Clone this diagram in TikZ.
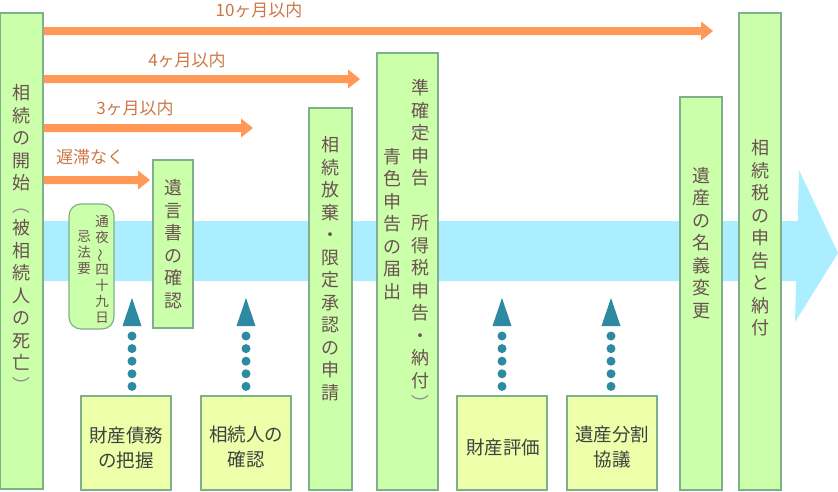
\documentclass[tikz,border=0pt]{standalone}
\usepackage{fontspec}
\usetikzlibrary{fit}
\newfontfamily\jp{Noto Sans CJK JP}
\definecolor{gfill}{HTML}{CCFFAA}
\definecolor{yfill}{HTML}{EEFFAA}
\definecolor{gline}{HTML}{7FB08C}
\definecolor{bluec}{HTML}{AAEEFF}
\definecolor{orangec}{HTML}{FF9955}
\definecolor{olabc}{HTML}{CC7744}
\definecolor{tealc}{HTML}{2E8AA0}
\definecolor{vtc}{HTML}{6B5252}
\definecolor{btc}{HTML}{404040}
\definecolor{parc}{HTML}{8C8C8C}
\newcommand\lp{\textcolor{parc}{\rotatebox[origin=c]{-90}{（}}}
\newcommand\rp{\textcolor{parc}{\rotatebox[origin=c]{-90}{）}}}
\begin{document}
\begin{tikzpicture}[x=1pt,y=-1pt,
  gbox/.style={draw=gline, fill=gfill, line width=1.2pt, inner sep=0pt},
  ybox/.style={draw=gline, fill=yfill, line width=1.2pt, inner sep=0pt},
  vt/.style={font=\jp\fontsize{18}{22.5}\selectfont, align=center, anchor=north, inner sep=0pt, text=vtc},
  vts/.style={font=\jp\fontsize{13.5}{16}\selectfont, align=center, anchor=north, inner sep=0pt, text=vtc},
  bt/.style={font=\jp\fontsize{18.5}{25}\selectfont, align=center, inner sep=0pt, text=btc},
  olab/.style={font=\jp\fontsize{17}{17}\selectfont, inner sep=0pt, text=olabc},
  dotline/.style={draw=tealc, line width=9pt, line cap=round, dash pattern=on 0pt off 12.6pt}
]
\useasboundingbox (0,0) rectangle (838,491);
% big blue arrow
\fill[bluec] (40,221) -- (797.7,221) -- (799,170) -- (838,253) -- (795,322) -- (796.1,281) -- (40,281) -- cycle;

% boxes
\node[gbox, fit={(0,13) (43,489)}] (L) {};
\node[gbox, fit={(153,160) (193,328)}] (W) {};
\node[gbox, rounded corners=12pt, fit={(69,204) (114,329)}] (T) {};
\node[gbox, fit={(309,108) (352,490)}] (H) {};
\node[gbox, fit={(377,53) (438,490)}] (J) {};
\node[gbox, fit={(680,97) (722,490)}] (M) {};
\node[gbox, fit={(739,13) (781,490)}] (Z) {};
\node[ybox, fit={(81,396) (171,490)}] (b1) {};
\node[ybox, fit={(201,396) (291,490)}] (b2) {};
\node[ybox, fit={(457,396) (547,490)}] (b3) {};
\node[ybox, fit={(567,396) (657,490)}] (b4) {};

% orange arrows
\foreach \yy/\xt [count=\i] in {31/713,79/360,128/253,180/150}{
  \coordinate (e\i) at (\xt,\yy);
  \fill[orangec] (L.east |- e\i) ++(0,-4) -- ({\xt-12},{\yy-4}) -- ({\xt-12},{\yy-9.5}) -- (e\i)
     -- ({\xt-12},{\yy+9.5}) -- ({\xt-12},{\yy+4}) -- (L.east |- 0,{\yy+4}) -- cycle;
}
\node[olab] (l1) at (259,10) {10ヶ月以内};
\node[olab] (l2) at (187,60) {4ヶ月以内};
\node[olab] (l3) at (135,108) {3ヶ月以内};
\node[olab] (l4) at (90,157) {遅滞なく};

% vertical texts
\node[vt] (Lt) at (21.5,84.5) {相\\続\\の\\開\\始\\\lp\\被\\相\\続\\人\\の\\死\\亡\\\rp};
\node[vt] (Wt) at (173,179.5) {遺\\言\\書\\の\\確\\認};
\node[vts] (Tt1) at (102,215.5) {通\\夜\\\rotatebox[origin=c]{90}{～}\\四\\十\\九\\日};
\node[vts] (Tt2) at (84,230.5) {忌\\法\\要};
\node[vt] (Ht) at (330.5,136.5) {相\\続\\放\\棄\\・\\限\\定\\承\\認\\の\\申\\請};
\node[vt] (Jt1) at (420,79.5) {準\\確\\定\\申\\告\\　\\所\\得\\税\\申\\告\\・\\納\\付\\\rp};
\node[vt, anchor=center] (Jp) at (421,125) {\lp};
\node[vt] (Jt2) at (392.5,148) {青\\色\\申\\告\\の\\届\\出};
\node[vt] (Mt) at (701,167) {遺\\産\\の\\名\\義\\変\\更};
\node[vt] (Zt) at (760,139.5) {相\\続\\税\\の\\申\\告\\と\\納\\付};

% bottom texts
\node[bt] (b1t) at (126,448) {財産債務\\の把握};
\node[bt] (b2t) at (246,447) {相続人の\\確認};
\node[bt] (b3t) at (503,447) {財産評価};
\node[bt] (b4t) at (612,447) {遺産分割\\協議};

% dotted arrows
\foreach \b/\dx [count=\i] in {b1/6,b2/0,b3/0,b4/-1}{
  \coordinate (t\i) at ([xshift=\dx pt]\b.north |- 0,298);
  \draw[dotline] ([xshift=\dx pt, yshift=9pt]\b.north) -- ([yshift=-37pt]t\i);
  \fill[tealc] (t\i) -- ++(-9.5,28) -- ++(19,0) -- cycle;
}
\end{tikzpicture}
\end{document}
